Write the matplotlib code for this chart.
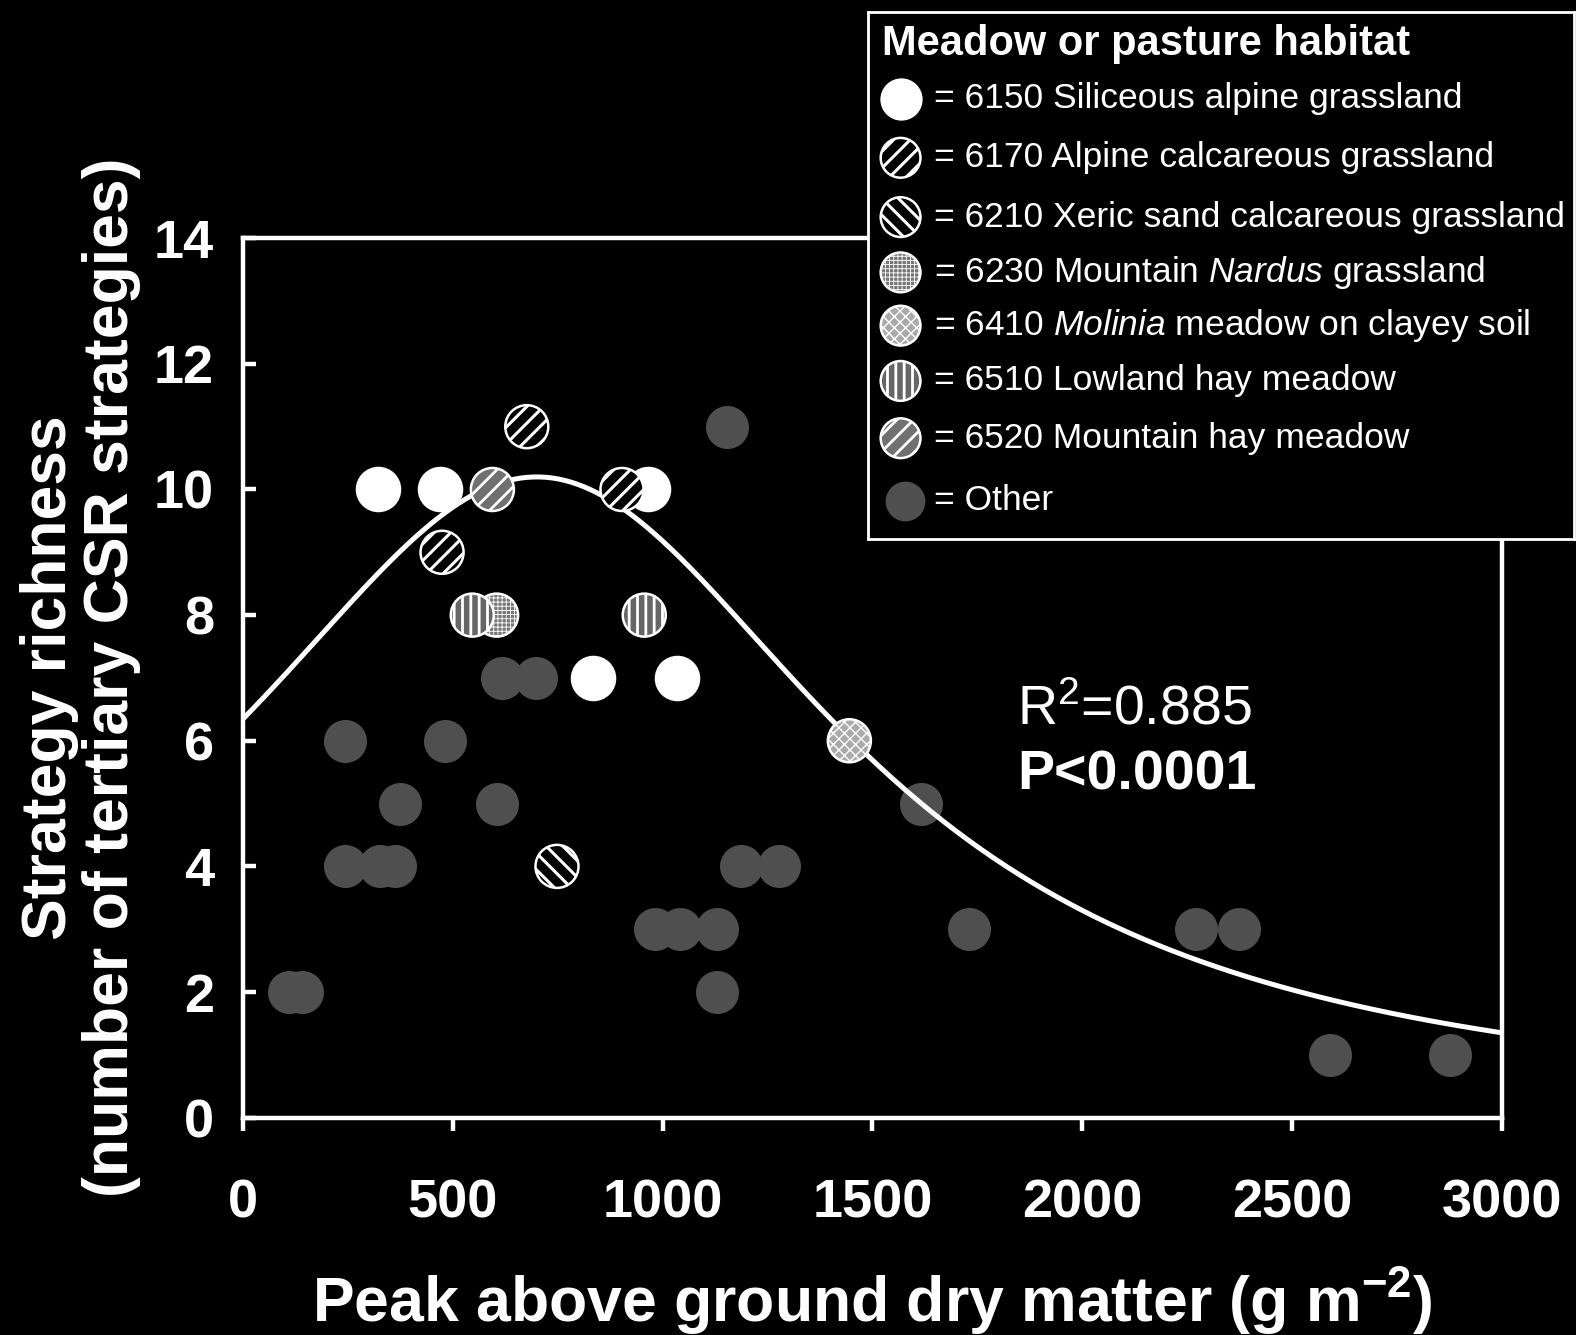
import matplotlib
matplotlib.use("Agg")
import matplotlib.pyplot as plt
import numpy as np

plt.rcParams['font.family'] = ['Liberation Sans', 'DejaVu Sans']
plt.rcParams['mathtext.fontset'] = 'custom'
plt.rcParams['mathtext.rm'] = 'Liberation Sans'
plt.rcParams['mathtext.it'] = 'Liberation Sans:italic'
plt.rcParams['mathtext.bf'] = 'Liberation Sans:bold'

# ---------------- data ----------------
other_x = [108, 139, 242, 242, 326, 362, 374, 482, 604, 618, 697, 1153, 982, 1042,
           1129, 1129, 1186, 1277, 1615, 1730, 2272, 2375, 2590, 2878]
other_y = [2, 2, 6, 4, 4, 4, 5, 6, 5, 7, 7, 11, 3, 3, 3, 2, 4, 4, 5, 3, 3, 3, 1, 1]

h6150_x = [321, 470, 966, 834, 1035]
h6150_y = [10, 10, 10, 7, 7]
h6170_x = [676, 474, 903]
h6170_y = [11, 9, 10]
h6210_x = [748]
h6210_y = [4]
h6230_x = [604]
h6230_y = [8]
h6410_x = [1445]
h6410_y = [6]
h6510_x = [546, 956]
h6510_y = [8, 8]
h6520_x = [594]
h6520_y = [10]

# fitted peak model (Lorentzian-type), parameters
fit_peak = 10.2
fit_x0 = 700.0
fit_width = 899.0

x_ticks = [0, 500, 1000, 1500, 2000, 2500, 3000]
y_ticks = [0, 2, 4, 6, 8, 10, 12, 14]

legend_title = "Meadow or pasture habitat"
legend_labels = ["= 6150 Siliceous alpine grassland",
                 "= 6170 Alpine calcareous grassland",
                 "= 6210 Xeric sand calcareous grassland",
                 r"= 6230 Mountain $\it{Nardus}$ grassland",
                 r"= 6410 $\it{Molinia}$ meadow on clayey soil",
                 "= 6510 Lowland hay meadow",
                 "= 6520 Mountain hay meadow",
                 "= Other"]

# ---------------- styles ----------------
GREY = '#4f4f4f'
MS = 960  # marker area (pt^2)
styles = [
    dict(fc='white', hatch=None, hlw=1.0),
    dict(fc='black', hatch='//', hlw=2.2),
    dict(fc='black', hatch='\\\\', hlw=2.2),
    dict(fc='#777777', hatch='++++', hlw=0.6),
    dict(fc='#aaaaaa', hatch='xxx', hlw=1.0),
    dict(fc='#666666', hatch='||', hlw=2.0),
    dict(fc='#707070', hatch='//', hlw=2.0),
]
series = [(h6150_x, h6150_y), (h6170_x, h6170_y), (h6210_x, h6210_y),
          (h6230_x, h6230_y), (h6410_x, h6410_y), (h6510_x, h6510_y),
          (h6520_x, h6520_y)]

W, H = 1576, 1335
S = 1576 / 1568  # layout measured on a 1568-wide view
fig = plt.figure(figsize=(W / 100, H / 100), dpi=100, facecolor='black')
ax_l, ax_r, ax_t, ax_b = 242 * S, 1494 * S, 237 * S, 1112 * S
ax = fig.add_axes([ax_l / W, 1 - ax_b / H, (ax_r - ax_l) / W, (ax_b - ax_t) / H])
ax.set_facecolor('black')


def hscatter(a, x, y, st, s=MS, zorder=3):
    with plt.rc_context({'hatch.linewidth': st['hlw'], 'hatch.color': 'white'}):
        return a.scatter(x, y, s=s, facecolor=st['fc'], edgecolor='white',
                         linewidths=1.8, hatch=st['hatch'], zorder=zorder,
                         clip_on=False)


ax.scatter(other_x, other_y, s=MS, color=GREY, linewidths=0, zorder=2, clip_on=False)

xc = np.linspace(0, 3000, 400)
yc = fit_peak / (1 + ((xc - fit_x0) / fit_width) ** 2)
ax.plot(xc, yc, color='white', lw=3.6, zorder=2.5)

for (x, y), st in zip(series, styles):
    hscatter(ax, x, y, st)

ax.set_xlim(0, 3000)
ax.set_ylim(0, 14)
ax.set_xticks(x_ticks)
ax.set_yticks(y_ticks)
for sp in ax.spines.values():
    sp.set_color('white')
    sp.set_linewidth(3.2)
ax.tick_params(axis='x', direction='out', length=9, width=3.2, color='white',
               labelcolor='white', labelsize=39, pad=35)
ax.tick_params(axis='y', direction='in', length=9, width=3.2, color='white',
               labelcolor='white', labelsize=39, pad=21)
for lab in ax.get_xticklabels() + ax.get_yticklabels():
    lab.set_fontweight('bold')

ax.text(1845, 6.48, r'R$^2$=0.885', color='white', fontsize=40, ha='left', va='center')
ax.text(1845, 5.44, 'P<0.0001', color='white', fontsize=40, fontweight='bold',
        ha='left', va='center')

fig.text(80 * S / W, 1 - 674 * S / H, 'Strategy richness\n(number of tertiary CSR strategies)',
         rotation=90, color='white', fontsize=45, fontweight='bold',
         ha='center', va='center', multialignment='center', linespacing=1.08)
fig.text(868 * S / W, 1 - 1295 * S / H, r'Peak above ground dry matter (g m$^{\mathbf{-2}}$)',
         color='white', fontsize=45, fontweight='bold', ha='center', va='center')

# ---------------- legend ----------------
lx0, lx1, ly0, ly1 = 864, 1566, 12, 536
lax = fig.add_axes([lx0 * S / W, 1 - ly1 * S / H, (lx1 - lx0) * S / W, (ly1 - ly0) * S / H])
lax.set_xlim(lx0, lx1)
lax.set_ylim(ly1, ly0)
lax.set_facecolor('black')
lax.set_xticks([])
lax.set_yticks([])
for sp in lax.spines.values():
    sp.set_color('white')
    sp.set_linewidth(2)
lax.set_zorder(5)

lax.text(878, 44, legend_title, color='white', fontsize=30, fontweight='bold',
         ha='left', va='center')
row_y = [98, 157, 216, 271, 324, 379, 436, 498]
for i, lab in enumerate(legend_labels):
    yy = row_y[i]
    if i < len(styles):
        hscatter(lax, [896], [yy], styles[i], s=820)
    else:
        lax.scatter([900], [yy], s=820, color=GREY, linewidths=0)
    lax.text(929, yy, lab, color='white', fontsize=25.5, ha='left', va='center')

fig.savefig('out.png', dpi=100, facecolor='black')
